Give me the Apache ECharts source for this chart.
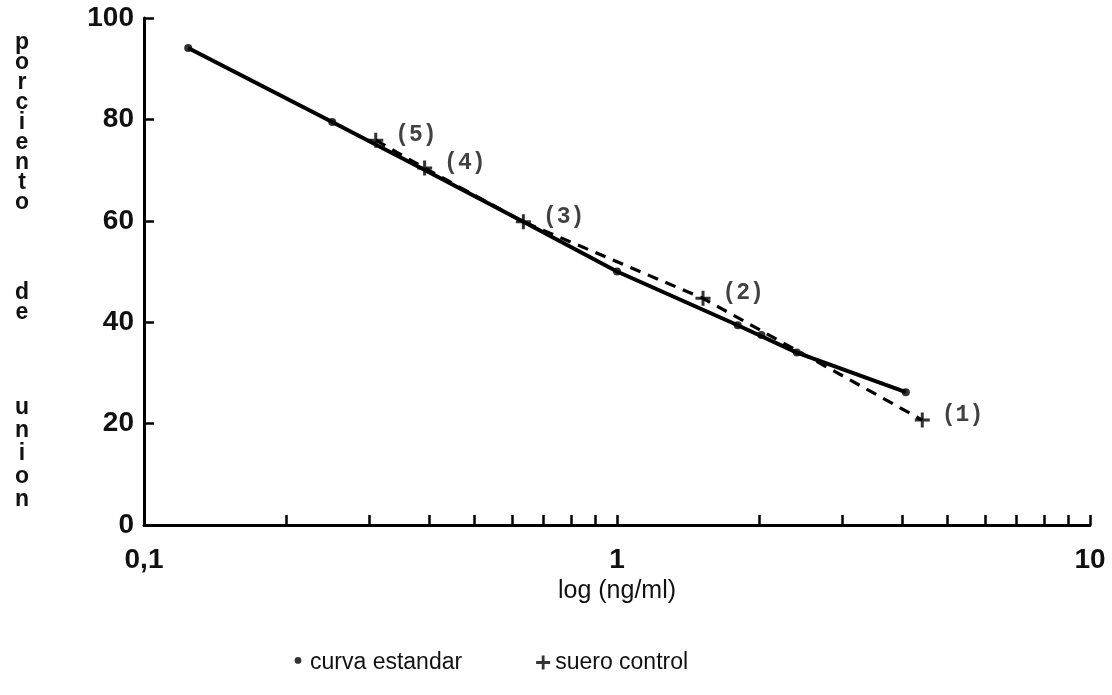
<!DOCTYPE html>
<html>
<head>
<meta charset="utf-8">
<script src="https://cdn.jsdelivr.net/npm/echarts@6/dist/echarts.min.js"></script>
<style>
  html, body { margin: 0; padding: 0; background: #fff; }
  #chart { width: 1112px; height: 695px; }
</style>
</head>
<body>
<div id="chart"></div>
<script>
// ---- data ----
// standard curve points (dots)
const stdX = [0.124, 0.25, 1.0, 1.8, 2.02, 2.4, 4.08];
const stdY = [94.1, 79.5, 50.0, 39.4, 37.5, 34.0, 26.2];
// hand-drawn standard curve (solid line)
const fitX = [0.124, 0.25, 0.385, 0.634, 1.0, 1.8, 2.4, 4.08];
const fitY = [94.1, 79.5, 70.4, 59.8, 50.0, 39.4, 34.0, 26.2];
// control sera (+), joined by dashed line
const ctrlX = [0.309, 0.392, 0.634, 1.52, 4.42];
const ctrlY = [75.9, 70.4, 59.8, 44.7, 20.7];
const ctrlLabels = ['(5)', '(4)', '(3)', '(2)', '(1)'];
// axis ticks
const xTickValues = [0.1, 0.2, 0.3, 0.4, 0.5, 0.6, 0.7, 0.8, 0.9, 1, 2, 3, 4, 5, 6, 7, 8, 9, 10];
const xLabelValues = [0.1, 1, 10];
const xLabelText = { '0.1': '0,1', '1': '1', '10': '10' };
const yTitleWords = ['porciento', 'de', 'union'];
const legendNames = ['curva estandar', 'suero control'];
const xAxisTitle = 'log (ng/ml)';

const pairs = (xs, ys) => xs.map((x, i) => [x, ys[i]]);

const PLUS = 'path://M4,0H6V4H10V6H6V10H4V6H0V4H4Z';
const DOT = 'path://M0,0L0.05,0L0.05,0.05Z M2.6,3.5A2.4,2.4 0 1,0 7.4,3.5A2.4,2.4 0 1,0 2.6,3.5Z M10,10L9.95,10L9.95,9.95Z';
const FONT = 'Liberation Sans';

const chart = echarts.init(document.getElementById('chart'), null, { renderer: 'canvas' });
chart.setOption({
  backgroundColor: '#ffffff',
  animation: false,
  grid: { left: 144, right: 22, top: 18, bottom: 170 },
  xAxis: {
    type: 'log', logBase: 10, min: 0.1, max: 10,
    name: xAxisTitle, nameLocation: 'middle', nameGap: 53,
    nameTextStyle: { fontFamily: FONT, fontSize: 25, color: '#111' },
    axisLine: { show: true, onZero: false, lineStyle: { color: '#000', width: 3 } },
    axisTick: { show: true, inside: true, length: 10, lineStyle: { color: '#000', width: 2.5 }, customValues: xTickValues },
    axisLabel: {
      customValues: xLabelValues, margin: 21, fontFamily: FONT, fontWeight: 'bold', fontSize: 28, color: '#111',
      formatter: v => xLabelText[String(v)] ?? String(v)
    },
    splitLine: { show: false }, minorTick: { show: false }
  },
  yAxis: {
    type: 'value', min: 0, max: 100, interval: 20,
    axisLine: { show: true, lineStyle: { color: '#000', width: 3 } },
    axisTick: { show: true, inside: true, length: 10, lineStyle: { color: '#000', width: 2.5 } },
    axisLabel: { margin: 10, fontFamily: FONT, fontWeight: 'bold', fontSize: 28, color: '#111' },
    splitLine: { show: false }
  },
  legend: {
    left: 286, top: 646, itemGap: 74, itemWidth: 14, itemHeight: 14,
    textStyle: { fontFamily: FONT, fontSize: 23, color: '#111' },
    data: [
      { name: legendNames[0], icon: DOT },
      { name: legendNames[1], icon: PLUS }
    ]
  },
  graphic: [
    { type: 'text', x: 22, y: 33, style: { text: yTitleWords[0].split('').join('\n'), font: 'bold 23px "Liberation Sans"', lineHeight: 20, fill: '#111', align: 'center', verticalAlign: 'top' } },
    { type: 'text', x: 22, y: 283, style: { text: yTitleWords[1].split('').join('\n'), font: 'bold 23px "Liberation Sans"', lineHeight: 20, fill: '#111', align: 'center', verticalAlign: 'top' } },
    { type: 'text', x: 22, y: 396, style: { text: yTitleWords[2].split('').join('\n'), font: 'bold 23px "Liberation Sans"', lineHeight: 23, fill: '#111', align: 'center', verticalAlign: 'top' } }
  ],
  series: [
    {
      name: 'curva', type: 'line', data: pairs(fitX, fitY), showSymbol: false, symbol: 'none',
      lineStyle: { color: '#000', width: 4 }, z: 3
    },
    {
      name: 'suero linea', type: 'line', data: pairs(ctrlX, ctrlY), showSymbol: false, symbol: 'none',
      lineStyle: { color: '#000', width: 3.2, type: [11, 8] }, z: 3
    },
    {
      name: legendNames[0], type: 'scatter', data: pairs(stdX, stdY),
      symbol: 'circle', symbolSize: 8, itemStyle: { color: '#000' }, z: 4
    },
    {
      name: legendNames[1], type: 'scatter',
      data: ctrlX.map((x, i) => ({ value: [x, ctrlY[i]], name: ctrlLabels[i] })),
      symbol: PLUS, symbolSize: 15, itemStyle: { color: '#000' }, z: 5,
      label: {
        show: true, position: 'right', distance: 12, offset: [0, -5],
        formatter: p => p.name, fontFamily: 'Liberation Mono', fontWeight: 'bold', fontSize: 23, color: '#111'
      }
    }
  ]
});
</script>
</body>
</html>
